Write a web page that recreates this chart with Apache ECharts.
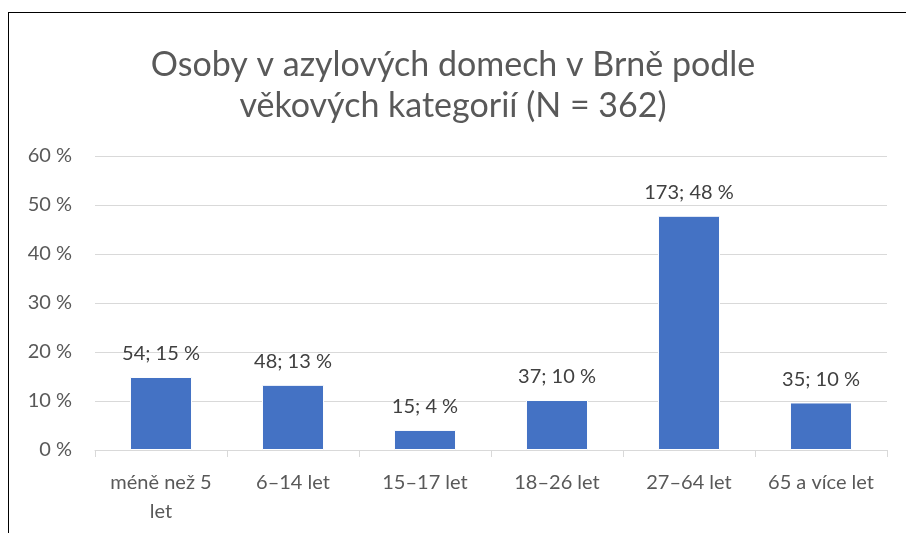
<!DOCTYPE html>
<html>
<head>
<meta charset="utf-8">
<script src="https://cdn.jsdelivr.net/npm/echarts@6/dist/echarts.min.js"></script>
<style>
    body { margin: 0; background: #fff; overflow: hidden; }
    .wrap { position: relative; width: 906px; height: 533px; }
    .frame {
        position: absolute;
        left: 8px;
        top: 12px;
        width: 920px;
        height: 540px;
        border-top: 1.5px solid #000;
        border-left: 1.5px solid #000;
    }
    #chart { position: absolute; left: 0; top: 0; width: 906px; height: 533px; }
</style>
</head>
<body>
<div class="wrap">
    <div class="frame"></div>
    <div id="chart"></div>
</div>
<script>
// kategorie a hodnoty
var categories = ['méně než 5 let', '6–14 let', '15–17 let', '18–26 let', '27–64 let', '65 a více let']
var counts = [54, 48, 15, 37, 173, 35]
var percents = [14.9, 13.3, 4.1, 10.2, 47.8, 9.7]
var yTicks = [0, 10, 20, 30, 40, 50, 60]

var myChart = echarts.init(document.getElementById('chart'))
var font = 'Lato, "Open Sans", sans-serif'

var option = {
    backgroundColor: 'transparent',
    title: {
        text: 'Osoby v azylových domech v Brně podle\nvěkových kategorií (N = 362)',
        left: 'center',
        top: 40,
        textStyle: {
            fontFamily: font,
            fontSize: 34,
            fontWeight: 'normal',
            color: '#595959',
            lineHeight: 41
        }
    },
    grid: {
        left: 95,
        right: 19,
        top: 156,
        bottom: 83
    },
    xAxis: {
        type: 'category',
        data: categories,
        axisLine: { lineStyle: { color: '#d9d9d9', width: 1 } },
        axisTick: { show: true, length: 7, lineStyle: { color: '#d9d9d9' } },
        axisLabel: {
            fontFamily: font,
            fontSize: 20,
            color: '#595959',
            margin: 18,
            lineHeight: 29,
            interval: 0,
            formatter: function (v) {
                // dlouhy popisek zalomit pred poslednim slovem
                if (v.length > 13) {
                    var i = v.lastIndexOf(' ')
                    return v.slice(0, i) + '\n' + v.slice(i + 1)
                }
                return v
            }
        }
    },
    yAxis: {
        type: 'value',
        min: yTicks[0],
        max: yTicks[yTicks.length - 1],
        interval: 10,
        axisLine: { show: false },
        axisTick: { show: false },
        splitLine: { lineStyle: { color: '#d9d9d9', width: 1 } },
        axisLabel: {
            fontFamily: font,
            fontSize: 20,
            color: '#595959',
            margin: 23,
            formatter: '{value} %'
        }
    },
    series: [
        {
            type: 'bar',
            data: percents,
            barWidth: '47%',
            itemStyle: {
                color: '#4472C4',
                borderColor: '#fff',
                borderWidth: 1
            },
            label: {
                show: true,
                position: 'top',
                distance: 13,
                fontFamily: font,
                fontSize: 20,
                color: '#404040',
                formatter: function (p) {
                    return counts[p.dataIndex] + '; ' + Math.round(percents[p.dataIndex]) + ' %'
                }
            }
        }
    ]
}
myChart.setOption(option)
</script>
</body>
</html>
